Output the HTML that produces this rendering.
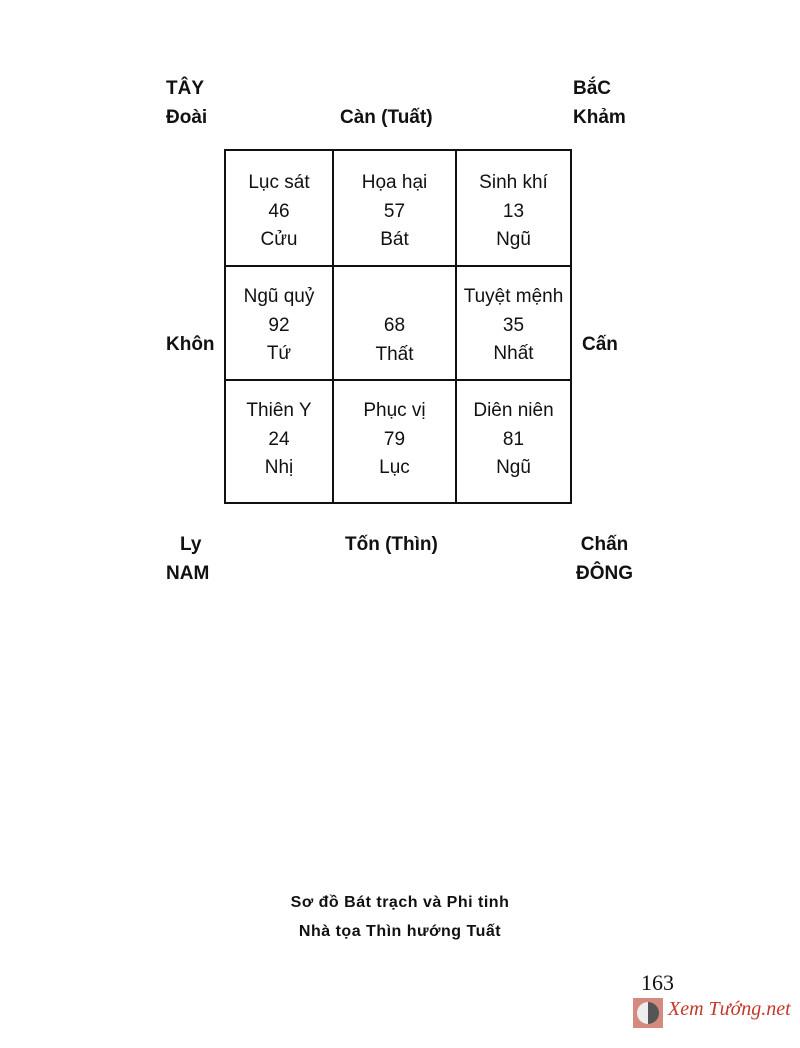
<!DOCTYPE html>
<html><head><meta charset="utf-8"><style>
body{margin:0;width:800px;height:1048px;background:#fff;position:relative;overflow:hidden;font-family:"Liberation Sans",sans-serif;color:#111}
.a{position:absolute}
.b{font-weight:bold;font-size:19px;line-height:29px}
.c{position:absolute;text-align:center;font-size:19px;line-height:28.5px}
.l{position:absolute;background:#111}
</style></head><body>
<div class="a b" style="left:166px;top:74px">TÂY<br>Đoài</div>
<div class="a b" style="left:340px;top:103px">Càn (Tuất)</div>
<div class="a b" style="left:573px;top:74px">BắC<br>Khảm</div>
<div class="a b" style="left:166px;top:330px">Khôn</div>
<div class="a b" style="left:582px;top:330px">Cấn</div>
<div class="a b" style="left:180px;top:530px">Ly</div>
<div class="a b" style="left:166px;top:559px">NAM</div>
<div class="a b" style="left:345px;top:530px">Tốn (Thìn)</div>
<div class="a b" style="left:576px;top:530px;text-align:center">Chấn<br>ĐÔNG</div>

<div class="l" style="left:224px;top:149px;width:348px;height:2px"></div>
<div class="l" style="left:224px;top:265px;width:348px;height:2px"></div>
<div class="l" style="left:224px;top:379px;width:348px;height:2px"></div>
<div class="l" style="left:224px;top:502px;width:348px;height:2px"></div>
<div class="l" style="left:224px;top:149px;width:2px;height:355px"></div>
<div class="l" style="left:332px;top:149px;width:2px;height:355px"></div>
<div class="l" style="left:455px;top:149px;width:2px;height:355px"></div>
<div class="l" style="left:570px;top:149px;width:2px;height:355px"></div>

<div class="c" style="left:226px;width:106px;top:169px">Lục sát<br>46<br>Cửu</div>
<div class="c" style="left:334px;width:121px;top:169px">Họa hại<br>57<br>Bát</div>
<div class="c" style="left:457px;width:113px;top:169px">Sinh khí<br>13<br>Ngũ</div>
<div class="c" style="left:226px;width:106px;top:283px">Ngũ quỷ<br>92<br>Tứ</div>
<div class="c" style="left:334px;width:121px;top:312px">68<br>Thất</div>
<div class="c" style="left:457px;width:113px;top:283px">Tuyệt mệnh<br>35<br>Nhất</div>
<div class="c" style="left:226px;width:106px;top:397px">Thiên Y<br>24<br>Nhị</div>
<div class="c" style="left:334px;width:121px;top:397px">Phục vị<br>79<br>Lục</div>
<div class="c" style="left:457px;width:113px;top:397px">Diên niên<br>81<br>Ngũ</div>

<div class="a" style="left:0;width:800px;top:888px;text-align:center;font-weight:bold;font-size:16px;line-height:29px;letter-spacing:0.5px;padding-left:0">Sơ đồ Bát trạch và Phi tinh<br>Nhà tọa Thìn hướng Tuất</div>
<div class="a" style="left:641px;top:970px;font-family:'Liberation Serif',serif;font-size:22px">163</div>
<div class="a" style="left:633px;top:998px;width:30px;height:30px;background:#d58a80"></div>
<div class="a" style="left:637px;top:1002px;width:22px;height:22px;border-radius:50%;background:linear-gradient(90deg,#eee 50%,#555 50%)"></div>
<div class="a" style="left:668px;top:998px;font-family:'Liberation Serif',serif;font-style:italic;font-size:20px;color:#c0392b">Xem Tướng.net</div>
</body></html>
